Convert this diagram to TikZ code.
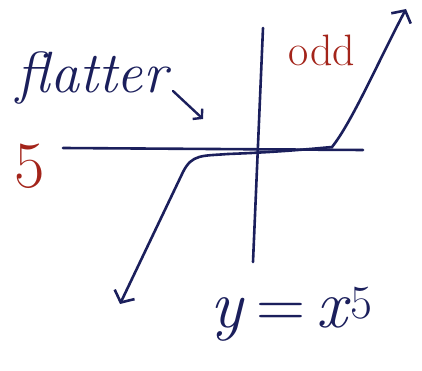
\documentclass[tikz,border=0pt]{standalone}
\usepackage{xcolor}
\usepackage{amsmath}
\usetikzlibrary{arrows.meta, positioning}
\definecolor{ink}{HTML}{1B1F5C}
\definecolor{redink}{HTML}{A3241A}
\tikzset{
  axis/.style={line width=2.6pt, color=ink, line cap=round},
  curve/.style={
    line width=2.6pt, color=ink,
    line cap=round, line join=round,
    {Straight Barb[length=9pt,width=22pt]}-{Straight Barb[length=9pt,width=22pt]},
  },
  pointer/.style={-{Straight Barb[length=6pt,width=14pt]}, line width=2.4pt, color=ink, line cap=round},
  hand/.style={font=\fontsize{58}{58}\selectfont\itshape, text=ink, inner sep=0pt},
  note/.style={font=\fontsize{44}{44}\selectfont, text=redink, inner sep=0pt},
  formula/.style={font=\fontsize{68}{68}\selectfont, text=ink, inner sep=0pt},
}

\begin{document}
\begin{tikzpicture}[x=1pt, y=-1pt]
  \useasboundingbox (0,0) rectangle (422,371);

  % axes
  \coordinate (xl) at (63,148);
  \coordinate (xr) at (363,150);
  \coordinate (yt) at (263,28);
  \coordinate (yb) at (253,262);
  \draw[axis] (xl) -- (xr);
  \draw[axis] (yt) -- (yb);

  % the curve
  \coordinate (low) at (120,304);
  \coordinate (knee) at (183,172);
  \coordinate (flat) at (332,147);
  \coordinate (high) at (406,9);
  \draw[curve] (low) -- (knee)
    .. controls (192,154) and (202,156) .. (228,154)
    .. controls (280,152) and (310,149) .. (flat)
    .. controls (352,122) and (378,62) .. (high);

  % labels
  \node[hand] (flatter) at (92,78) {flatter};
  \coordinate (flatend) at (203,119);
  \draw[pointer] (173,91) -- (flatend);
  \node[note] (odd) at (322,50) {odd};
  \node[note, font=\fontsize{66}{66}\selectfont] (five) at (30,166) {5};
  \node[formula] (eq) at (292,314) {\textit{y}\,=\,\textit{x}\textsuperscript{5}};
\end{tikzpicture}
\end{document}
